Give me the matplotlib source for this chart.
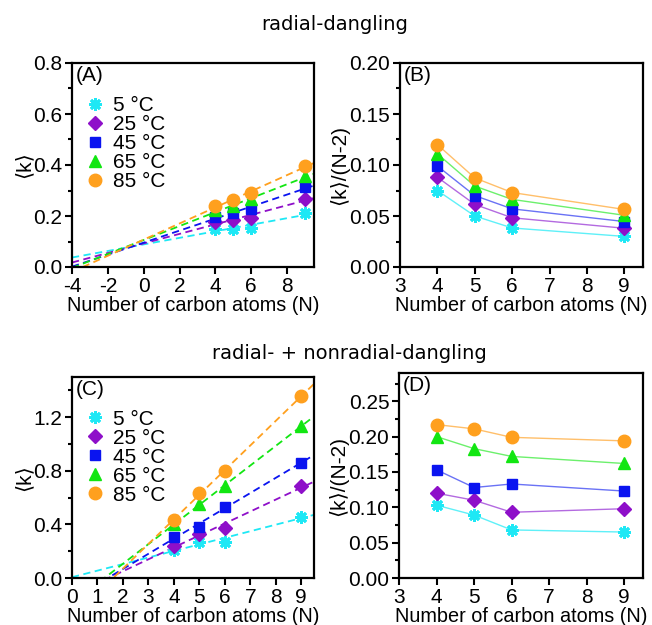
import matplotlib
matplotlib.use("Agg")
import matplotlib.pyplot as plt
import numpy as np
from matplotlib.ticker import MultipleLocator

# carbon atoms in the chain
n_carbon = np.array([4, 5, 6, 9])
temps = ["5 °C", "25 °C", "45 °C", "65 °C", "85 °C"]

# <k> for radial-dangling
k_radial = [
    [0.150, 0.150, 0.153, 0.210],
    [0.176, 0.184, 0.193, 0.266],
    [0.198, 0.210, 0.228, 0.312],
    [0.222, 0.238, 0.265, 0.355],
    [0.240, 0.262, 0.292, 0.395],
]

# <k> for radial- + nonradial-dangling
k_total = [
    [0.206, 0.267, 0.272, 0.455],
    [0.240, 0.330, 0.372, 0.686],
    [0.306, 0.384, 0.532, 0.861],
    [0.400, 0.549, 0.688, 1.134],
    [0.434, 0.633, 0.796, 1.358],
]

colors = ["#1ee8f5", "#8e0fc9", "#0a14f0", "#12e612", "#ffa01e"]
line_colors = ["#5ff0f8", "#b36ae0", "#6a72f5", "#6cf06c", "#ffbf6a"]
markers = [(8, 2, 0), "D", "s", "^", "o"]
msizes = [9, 7, 7.5, 8.5, 9]

tick_font = "Liberation Sans"
title_font = "DejaVu Sans"

plt.rcParams["font.family"] = [tick_font, "DejaVu Sans"]
plt.rcParams["axes.linewidth"] = 1.6
plt.rcParams["axes.unicode_minus"] = False

fig = plt.figure(figsize=(6.52, 6.25), dpi=100)
axA = fig.add_axes([0.1104, 0.5728, 0.3712, 0.3264])
axB = fig.add_axes([0.6135, 0.5728, 0.3727, 0.3264])
axC = fig.add_axes([0.1104, 0.0752, 0.3712, 0.3216])
axD = fig.add_axes([0.612, 0.0752, 0.3742, 0.328])


def style(ax, ylabel):
    ax.tick_params(which="both", direction="out", width=1.5, labelsize=15,
                   top=False, right=False, pad=2)
    ax.tick_params(which="major", length=5)
    ax.tick_params(which="minor", length=3)
    ax.set_xlabel("Number of carbon atoms (N)", fontsize=14.3, labelpad=0)
    ax.set_ylabel(ylabel, fontsize=15, labelpad=0)


def draw_fits(ax, data, xmin, xmax):
    xs = np.array([xmin, xmax])
    for i, vals in enumerate(data):
        slope, icpt = np.polyfit(n_carbon, vals, 1)
        ax.plot(xs, slope * xs + icpt, ls=(0, (4, 2.5)), lw=1.3,
                color=colors[i], zorder=2)
    for i, vals in enumerate(data):
        ax.plot(n_carbon, vals, ls="none", marker=markers[i],
                ms=msizes[i], color=colors[i], mec=colors[i],
                mew=2.0 if i == 0 else 1, label=temps[i], zorder=3)


def draw_norm(ax, data):
    for i, vals in enumerate(data):
        ax.plot(n_carbon, np.array(vals) / (n_carbon - 2), color=line_colors[i],
                lw=1.0, zorder=2)
    for i, vals in enumerate(data):
        ax.plot(n_carbon, np.array(vals) / (n_carbon - 2), ls="none",
                marker=markers[i], ms=msizes[i], color=colors[i],
                mec=colors[i], mew=2.0 if i == 0 else 1, zorder=3)


# (A) radial-dangling <k>
draw_fits(axA, k_radial, -4, 9.5)
axA.set_xlim(-4, 9.5)
axA.set_ylim(0, 0.8)
axA.xaxis.set_major_locator(MultipleLocator(2))
axA.yaxis.set_major_locator(MultipleLocator(0.2))
axA.yaxis.set_minor_locator(MultipleLocator(0.1))
style(axA, "⟨k⟩")

# (B) radial-dangling <k>/(N-2)
draw_norm(axB, k_radial)
axB.set_xlim(3, 9.5)
axB.set_ylim(0, 0.2)
axB.xaxis.set_major_locator(MultipleLocator(1))
axB.yaxis.set_major_locator(MultipleLocator(0.05))
axB.yaxis.set_minor_locator(MultipleLocator(0.025))
axB.yaxis.set_major_formatter(lambda v, p: f"{v:.2f}")
style(axB, "⟨k⟩/(N-2)")

# (C) radial- + nonradial-dangling <k>
draw_fits(axC, k_total, 0, 9.5)
axC.set_xlim(0, 9.5)
axC.set_ylim(0, 1.5)
axC.xaxis.set_major_locator(MultipleLocator(1))
axC.yaxis.set_major_locator(MultipleLocator(0.4))
axC.yaxis.set_minor_locator(MultipleLocator(0.2))
style(axC, "⟨k⟩")

# (D) radial- + nonradial-dangling <k>/(N-2)
draw_norm(axD, k_total)
axD.set_xlim(3, 9.5)
axD.set_ylim(0, 0.29)
axD.xaxis.set_major_locator(MultipleLocator(1))
axD.yaxis.set_major_locator(MultipleLocator(0.05))
axD.yaxis.set_minor_locator(MultipleLocator(0.025))
axD.yaxis.set_major_formatter(lambda v, p: f"{v:.2f}")
style(axD, "⟨k⟩/(N-2)")

for ax, tag in zip([axA, axB, axC, axD], ["(A)", "(B)", "(C)", "(D)"]):
    ax.text(0.015, 0.985, tag, transform=ax.transAxes, ha="left", va="top",
            fontsize=15)

for ax in (axA, axC):
    ax.legend(loc="upper left", bbox_to_anchor=(0.01, 0.89), frameon=False,
              fontsize=15, handlelength=1.0, handletextpad=0.35,
              labelspacing=0.0, borderaxespad=0.3, borderpad=0.2)

fig.text(0.514, 0.952, "radial-dangling", ha="center", va="baseline",
         fontsize=14, family=[title_font])
fig.text(0.536, 0.4256, "radial- + nonradial-dangling", ha="center",
         va="baseline", fontsize=14, family=[title_font])

fig.savefig("out.png", dpi=100)
